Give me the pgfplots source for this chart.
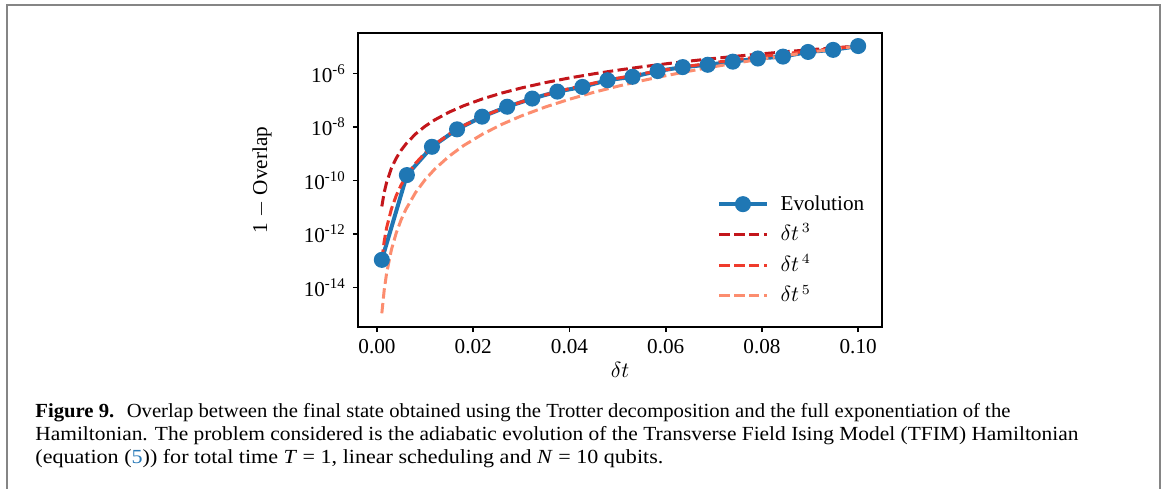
\documentclass[border=0pt]{standalone}
\usepackage{fontspec}
\setmainfont{Liberation Serif}
\usepackage{pgfplots}
\pgfplotsset{compat=1.18}
\usepackage{graphicx}
\definecolor{evo}{HTML}{1F77B4}
\definecolor{rthree}{HTML}{C3161B}
\definecolor{rfour}{HTML}{EF3B2C}
\definecolor{rfive}{HTML}{FC8D6F}
\definecolor{linkblue}{HTML}{2A7AB8}
\definecolor{boxgray}{HTML}{858585}

\pgfplotstableread{
x y
0.001 1.08e-13
0.0062105 1.607e-10
0.0114211 1.837e-9
0.0166316 8.26e-9
0.0218421 2.459e-8
0.0270526 5.785e-8
0.0322632 1.170e-7
0.0374737 2.130e-7
0.0426842 3.195e-7
0.0478947 5.684e-7
0.0531053 7.65e-7
0.0583158 1.249e-6
0.0635263 1.759e-6
0.0687368 2.15e-6
0.0739474 2.81e-6
0.0791579 3.69e-6
0.0843684 4.35e-6
0.0895789 6.49e-6
0.0947895 7.77e-6
0.1 1.08e-5
}\evo

\pgfplotstableread{
x y3 y4 y5
0.001 1.08e-11 1.08e-13 1.08e-15
0.0015 3.645e-11 5.4675e-13 8.201e-15
0.002 8.64e-11 1.728e-12 3.456e-14
0.003 2.916e-10 8.748e-12 2.6244e-13
0.004 6.912e-10 2.7648e-11 1.1059e-12
0.005 1.35e-9 6.75e-11 3.375e-12
0.006 2.3328e-9 1.39968e-10 8.398e-12
0.008 5.5296e-9 4.4237e-10 3.539e-11
0.010 1.08e-8 1.08e-9 1.08e-10
0.012 1.86624e-8 2.23949e-9 2.68739e-10
0.015 3.645e-8 5.4675e-9 8.20125e-10
0.018 6.29856e-8 1.13374e-8 2.04073e-9
0.022 1.14998e-7 2.52996e-8 5.56592e-9
0.026 1.89821e-7 4.93534e-8 1.28319e-8
0.030 2.916e-7 8.748e-8 2.6244e-8
0.035 4.6305e-7 1.62068e-7 5.67236e-8
0.040 6.912e-7 2.7648e-7 1.10592e-7
0.045 9.8415e-7 4.42868e-7 1.9929e-7
0.050 1.35e-6 6.75e-7 3.375e-7
0.055 1.79685e-6 9.88268e-7 5.43547e-7
0.060 2.3328e-6 1.39968e-6 8.39808e-7
0.065 2.96595e-6 1.92787e-6 1.25311e-6
0.070 3.7044e-6 2.59308e-6 1.81516e-6
0.075 4.55625e-6 3.41719e-6 2.56289e-6
0.080 5.5296e-6 4.42368e-6 3.53894e-6
0.085 6.63255e-6 5.63767e-6 4.79202e-6
0.090 7.8732e-6 7.08588e-6 6.37729e-6
0.095 9.25965e-6 8.79667e-6 8.35683e-6
0.100 1.08e-5 1.08e-5 1.08e-5
}\refs

\begin{document}
\begin{tikzpicture}
\useasboundingbox (0,0) rectangle (582.5pt,244pt);
\draw[boxgray,line width=1.1pt] (3.4pt,-2pt) -- (3.4pt,241.5pt) -- (580pt,241.5pt) -- (580pt,-2pt);
\begin{axis}[
  at={(179pt,80.5pt)}, anchor=south west,
  scale only axis, width=262pt, height=147pt,
  ymode=log,
  xmin=-0.00395, xmax=0.10495,
  ymin=3.32e-16, ymax=3.32e-5,
  xtick={0,0.02,0.04,0.06,0.08,0.1},
  xticklabels={0.00,0.02,0.04,0.06,0.08,0.10},
  ytick={1e-14,1e-12,1e-10,1e-8,1e-6},
  yticklabels={10\textsuperscript{-14},10\textsuperscript{-12},10\textsuperscript{-10},10\textsuperscript{-8},10\textsuperscript{-6}},
  minor tick num=0, yminorticks=false,
  tick align=outside, xtick pos=bottom, ytick pos=left,
  major tick length=2.6pt,
  every tick/.style={black, line width=0.8pt},
  axis line style={line width=1.1pt},
  tick label style={font=\fontsize{10.6pt}{12pt}\selectfont},
  label style={font=\fontsize{10.6pt}{12pt}\selectfont},
  xlabel={$\delta t$},
  ylabel={1 $-$ Overlap},
  xlabel style={at={(axis description cs:0.5,-0.145)},anchor=center},
  ylabel style={at={(axis description cs:-0.183,0.5)},anchor=center},
  legend cell align=left,
  legend image code/.code={\draw[mark repeat=2,mark phase=2,#1] plot coordinates {(0cm,0cm) (0.415cm,0cm) (0.83cm,0cm)};},
  legend style={draw=none, fill=none, at={(0.685,0.46)}, anchor=north west,
    font=\fontsize{10.6pt}{12pt}\selectfont, inner sep=0pt,
    nodes={inner sep=1pt, text height=8pt, text depth=2pt}, row sep=3.3pt, column sep=5pt},
]
\addplot[evo, line width=2pt, mark=*, mark size=3pt, mark options={solid, fill=evo, draw=evo}] table[x=x,y=y] {\evo};
\addlegendentry{Evolution}
\addplot[rthree, line width=1.5pt, dash pattern=on 5.2pt off 2.2pt] table[x=x,y=y3] {\refs};
\addlegendentry{$\delta t^{\,3}$}
\addplot[rfour, line width=1.5pt, dash pattern=on 5.2pt off 2.2pt] table[x=x,y=y4] {\refs};
\addlegendentry{$\delta t^{\,4}$}
\addplot[rfive, line width=1.5pt, dash pattern=on 5.2pt off 2.2pt] table[x=x,y=y5] {\refs};
\addlegendentry{$\delta t^{\,5}$}
\end{axis}
\begin{scope}[every node/.style={anchor=base west, inner sep=0pt, font=\fontsize{10pt}{11.5pt}\selectfont}]
\node at (17.5pt,35.5pt) {\resizebox{487.5pt}{\height}{\textbf{Figure 9.}\hspace{0.6em}Overlap between the final state obtained using the Trotter decomposition and the full exponentiation of the}};
\node at (17.5pt,24pt) {\resizebox{521.5pt}{\height}{Hamiltonian. The problem considered is the adiabatic evolution of the Transverse Field Ising Model (TFIM) Hamiltonian}};
\node at (17.5pt,12.5pt) {\resizebox{314pt}{\height}{(equation ({\color{linkblue}5})) for total time \textit{T} = 1, linear scheduling and \textit{N} = 10 qubits.}};
\end{scope}
\end{tikzpicture}
\end{document}
